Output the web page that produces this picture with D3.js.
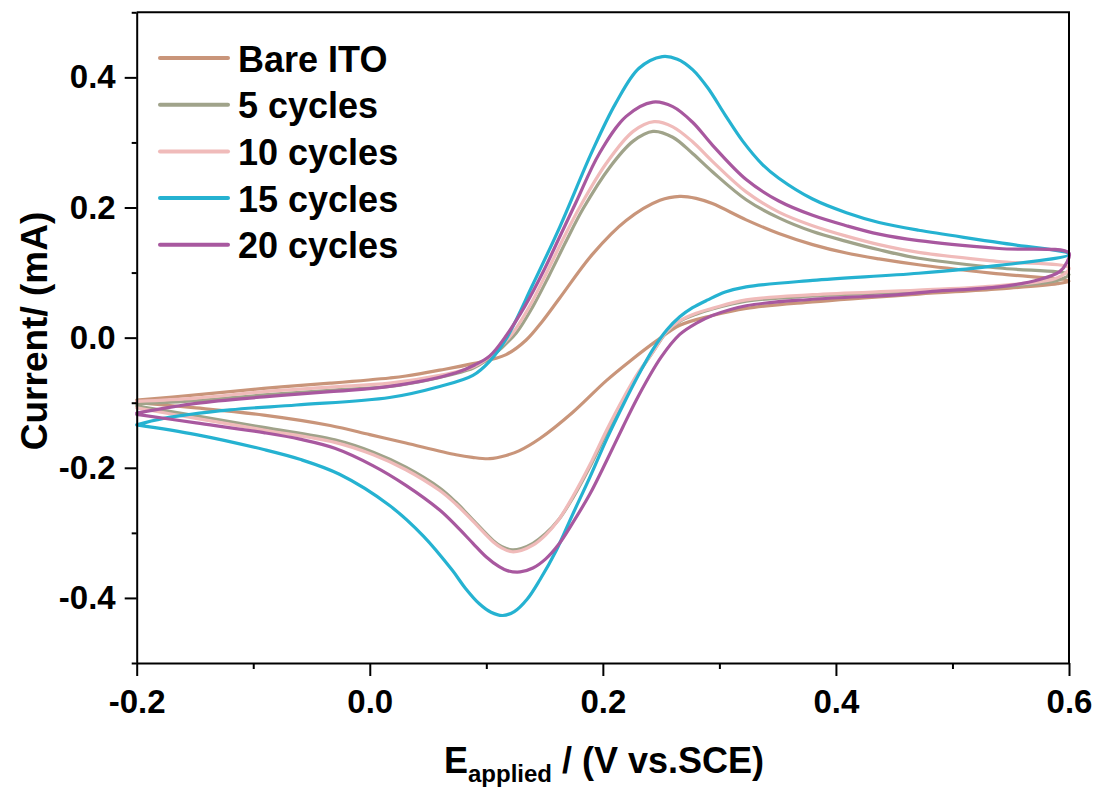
<!DOCTYPE html>
<html>
<head>
<meta charset="utf-8">
<script src="https://cdn.jsdelivr.net/npm/d3@7"></script>
<style>
  html, body { margin: 0; padding: 0; background: #fff; }
  svg { display: block; }
  text { font-family: "Liberation Sans", Arial, sans-serif; font-weight: bold; fill: #000; }
</style>
</head>
<body>
<svg id="chart" width="1100" height="789"></svg>
<script>
// ---------------- DATA ----------------
const seriesNames = ["Bare ITO", "5 cycles", "10 cycles", "15 cycles", "20 cycles"];
const seriesColors = ["#C9957A", "#A0A38A", "#F0BBBA", "#25B2D1", "#A8589F"];

const xTicks = [-0.2, 0.0, 0.2, 0.4, 0.6];
const xMinorTicks = [-0.1, 0.1, 0.3, 0.5];
const yTicks = [-0.4, -0.2, 0.0, 0.2, 0.4];
const yMinorTicks = [-0.5, -0.3, -0.1, 0.1, 0.3, 0.5];

// Each series: [E (V), I (mA)] pairs, forward scan then reverse scan
const bareITO = [
  [-0.2,-0.096],[-0.149,-0.088],[-0.091,-0.078],[-0.034,-0.070],[0.017,-0.062],[0.031,-0.059],
  [0.06,-0.050],[0.0885,-0.040],[0.117,-0.026],[0.134,-0.004],[0.148,0.025],[0.163,0.061],
  [0.191,0.128],[0.22,0.180],[0.249,0.211],[0.266,0.217],[0.28,0.214],[0.294,0.206],
  [0.323,0.181],[0.351,0.160],[0.38,0.143],[0.409,0.130],[0.437,0.121],[0.471,0.112],
  [0.54,0.098],[0.6,0.087],
  [0.59,0.083],[0.54,0.075],[0.471,0.067],[0.38,0.055],[0.323,0.045],[0.294,0.034],
  [0.266,0.019],[0.246,-0.005],[0.224,-0.035],[0.203,-0.066],[0.174,-0.115],[0.146,-0.155],
  [0.128,-0.174],[0.117,-0.181],[0.103,-0.186],[0.088,-0.184],[0.074,-0.180],[0.031,-0.162],
  [0.0,-0.149],[-0.034,-0.135],[-0.091,-0.119],[-0.149,-0.108],[-0.2,-0.100]
];
const cycles5 = [
  [-0.2,-0.102],[-0.149,-0.097],[-0.091,-0.088],[-0.034,-0.081],[0.017,-0.075],[0.06,-0.061],
  [0.0885,-0.047],[0.1,-0.035],[0.113,-0.016],[0.126,0.008],[0.14,0.048],[0.154,0.096],
  [0.169,0.150],[0.183,0.198],[0.206,0.262],[0.226,0.302],[0.243,0.317],[0.26,0.308],
  [0.277,0.283],[0.294,0.255],[0.323,0.212],[0.351,0.184],[0.38,0.163],[0.409,0.148],
  [0.437,0.135],[0.471,0.122],[0.54,0.107],[0.6,0.097],
  [0.59,0.088],[0.54,0.078],[0.471,0.071],[0.38,0.064],[0.323,0.056],[0.294,0.044],
  [0.28,0.036],[0.266,0.025],[0.254,0.007],[0.243,-0.022],[0.231,-0.054],[0.217,-0.098],
  [0.203,-0.147],[0.189,-0.198],[0.174,-0.247],[0.162,-0.280],[0.151,-0.301],[0.14,-0.316],
  [0.13,-0.324],[0.122,-0.326],[0.113,-0.321],[0.106,-0.312],[0.0885,-0.280],[0.074,-0.253],
  [0.06,-0.231],[0.031,-0.199],[0.003,-0.176],[-0.03,-0.157],[-0.091,-0.138],[-0.149,-0.120],
  [-0.2,-0.105]
];
const cycles10 = [
  [-0.2,-0.098],[-0.149,-0.093],[-0.091,-0.083],[-0.034,-0.076],[0.017,-0.070],[0.06,-0.058],
  [0.0885,-0.045],[0.1,-0.033],[0.111,-0.016],[0.123,0.008],[0.137,0.048],[0.151,0.097],
  [0.166,0.152],[0.18,0.200],[0.203,0.268],[0.226,0.317],[0.244,0.332],[0.26,0.324],
  [0.277,0.301],[0.294,0.271],[0.323,0.224],[0.351,0.193],[0.38,0.172],[0.409,0.156],
  [0.437,0.143],[0.471,0.131],[0.54,0.117],[0.6,0.107],
  [0.59,0.092],[0.54,0.080],[0.471,0.073],[0.38,0.066],[0.323,0.058],[0.294,0.045],
  [0.28,0.0375],[0.266,0.026],[0.254,0.008],[0.243,-0.022],[0.231,-0.052],[0.217,-0.095],
  [0.203,-0.143],[0.189,-0.195],[0.174,-0.245],[0.162,-0.280],[0.151,-0.303],[0.14,-0.319],
  [0.13,-0.327],[0.122,-0.329],[0.113,-0.323],[0.106,-0.314],[0.0885,-0.282],[0.074,-0.256],
  [0.06,-0.235],[0.031,-0.203],[0.003,-0.180],[-0.03,-0.161],[-0.091,-0.142],[-0.149,-0.124],
  [-0.2,-0.108]
];
const cycles15 = [
  [-0.2,-0.134],[-0.177,-0.124],[-0.12,-0.111],[-0.063,-0.1035],[0.017,-0.092],[0.06,-0.075],
  [0.0885,-0.058],[0.103,-0.036],[0.117,-0.002],[0.14,0.082],[0.163,0.170],[0.191,0.287],
  [0.211,0.360],[0.231,0.414],[0.251,0.432],[0.264,0.428],[0.277,0.412],[0.29,0.384],
  [0.305,0.342],[0.32,0.302],[0.337,0.266],[0.351,0.245],[0.38,0.213],[0.409,0.192],
  [0.437,0.177],[0.471,0.165],[0.54,0.146],[0.6,0.128],
  [0.54,0.111],[0.471,0.099],[0.38,0.088],[0.323,0.078],[0.305,0.070],[0.29,0.058],
  [0.277,0.046],[0.266,0.032],[0.255,0.012],[0.243,-0.018],[0.231,-0.056],[0.217,-0.105],
  [0.203,-0.157],[0.189,-0.214],[0.174,-0.272],[0.16,-0.327],[0.146,-0.372],[0.135,-0.402],
  [0.124,-0.421],[0.114,-0.427],[0.104,-0.422],[0.094,-0.409],[0.082,-0.385],[0.071,-0.358],
  [0.046,-0.305],[0.017,-0.258],[-0.026,-0.210],[-0.06,-0.187],[-0.091,-0.172],[-0.149,-0.149],
  [-0.2,-0.134]
];
const cycles20 = [
  [-0.2,-0.116],[-0.149,-0.101],[-0.091,-0.091],[-0.034,-0.083],[0.017,-0.075],[0.074,-0.054],
  [0.09,-0.042],[0.103,-0.028],[0.117,0.003],[0.133,0.048],[0.149,0.102],[0.163,0.155],
  [0.177,0.208],[0.197,0.283],[0.22,0.340],[0.243,0.362],[0.26,0.355],[0.277,0.331],
  [0.294,0.296],[0.323,0.243],[0.351,0.210],[0.38,0.188],[0.409,0.172],[0.437,0.159],
  [0.471,0.149],[0.54,0.137],[0.6,0.130],
  [0.598,0.115],[0.592,0.1015],[0.574,0.089],[0.54,0.078],[0.483,0.071],[0.454,0.066],
  [0.38,0.059],[0.323,0.049],[0.294,0.034],[0.28,0.022],[0.266,0.005],[0.25,-0.030],
  [0.231,-0.088],[0.217,-0.138],[0.203,-0.190],[0.189,-0.240],[0.174,-0.285],[0.162,-0.318],
  [0.151,-0.340],[0.14,-0.354],[0.129,-0.360],[0.118,-0.358],[0.111,-0.352],[0.1,-0.337],
  [0.0885,-0.316],[0.074,-0.289],[0.06,-0.265],[0.031,-0.227],[0.003,-0.197],[-0.03,-0.170],
  [-0.06,-0.156],[-0.091,-0.146],[-0.149,-0.131],[-0.2,-0.118]
];
const seriesData = [bareITO, cycles5, cycles10, cycles15, cycles20];

// ---------------- LAYOUT ----------------
const svg = d3.select("#chart");
const mLeft = 136.7, mRight = 1069, mTop = 12.3, mBottom = 663;

const x = d3.scaleLinear().domain([-0.2, 0.6]).range([mLeft, mRight]);
const y = d3.scaleLinear().domain([-0.5, 0.5]).range([mBottom, mTop]);

// curves
const line = d3.line()
  .x(d => x(d[0]))
  .y(d => y(d[1]))
  .curve(d3.curveCatmullRom.alpha(0.5));

const gLines = svg.append("g");
seriesData.forEach((data, i) => {
  gLines.append("path")
    .datum(data)
    .attr("d", line)
    .attr("fill", "none")
    .attr("stroke", seriesColors[i])
    .attr("stroke-width", 3.2)
    .attr("stroke-linejoin", "round")
    .attr("stroke-linecap", "round");
});

// frame (top & right)
svg.append("path")
  .attr("d", `M${mLeft},${mTop}H${mRight}V${mBottom}`)
  .attr("fill", "none").attr("stroke", "#000").attr("stroke-width", 2);

const fmt = d => d.toFixed(1);

// x axis
svg.append("g").attr("transform", `translate(0,${mBottom})`)
  .call(d3.axisBottom(x).tickValues(xTicks).tickFormat(fmt).tickSize(13).tickSizeOuter(0).tickPadding(14));
svg.append("g").attr("transform", `translate(0,${mBottom})`)
  .call(d3.axisBottom(x).tickValues(xMinorTicks).tickFormat("").tickSize(6).tickSizeOuter(0))
  .select(".domain").remove();

// y axis
svg.append("g").attr("transform", `translate(${mLeft},0)`)
  .call(d3.axisLeft(y).tickValues(yTicks).tickFormat(fmt).tickSize(12).tickSizeOuter(0).tickPadding(9));
svg.append("g").attr("transform", `translate(${mLeft},0)`)
  .call(d3.axisLeft(y).tickValues(yMinorTicks).tickFormat("").tickSize(5).tickSizeOuter(0))
  .select(".domain").remove();

svg.selectAll(".domain, .tick line").attr("stroke", "#000").attr("stroke-width", 2);
svg.selectAll(".tick text")
  .style("font-family", '"Liberation Sans", Arial, sans-serif')
  .style("font-weight", "bold")
  .style("font-size", "33px")
  .attr("fill", "#000");

// axis titles
const xt = svg.append("text")
  .attr("x", 604).attr("y", 773)
  .attr("text-anchor", "middle")
  .style("font-size", "36px");
xt.append("tspan").text("E");
xt.append("tspan").text("applied").style("font-size", "24px").attr("dy", 9);
xt.append("tspan").text(" / (V vs.SCE)").attr("dy", -9);

svg.append("text")
  .attr("transform", "translate(47,331) rotate(-90)")
  .attr("text-anchor", "middle")
  .style("font-size", "37px")
  .text("Current/ (mA)");

// legend
const legend = svg.append("g");
seriesNames.forEach((name, i) => {
  const ly = 58 + i * 46.7;
  legend.append("line")
    .attr("x1", 160).attr("x2", 228).attr("y1", ly).attr("y2", ly)
    .attr("stroke", seriesColors[i]).attr("stroke-width", 4).attr("stroke-linecap", "round");
  legend.append("text")
    .attr("x", 238).attr("y", ly + 13.5)
    .style("font-size", "36px")
    .text(name);
});
</script>
</body>
</html>
